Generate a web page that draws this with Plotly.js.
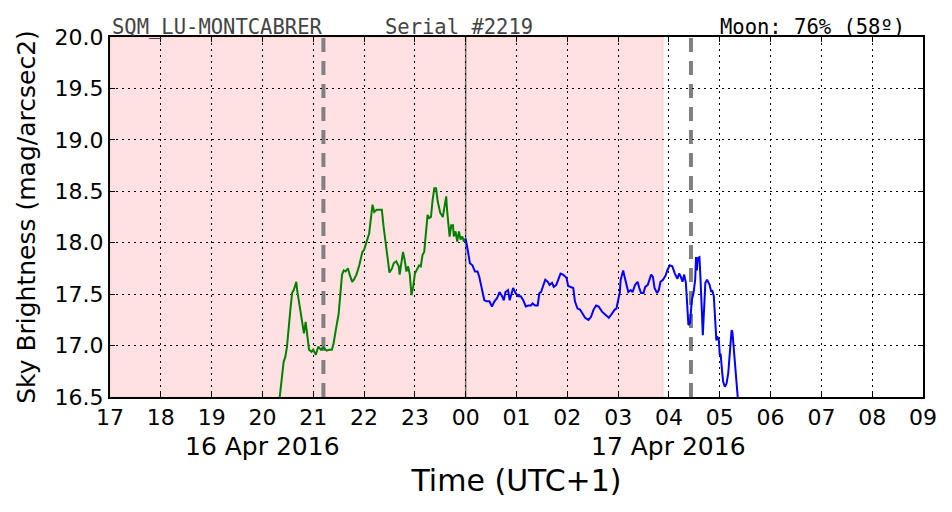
<!DOCTYPE html>
<html>
<head>
<meta charset="utf-8">
<script src="https://cdn.plot.ly/plotly-3.0.1.min.js"></script>
<style>html,body{margin:0;padding:0;background:#fff;}#chart{width:952px;height:512px;}</style>
</head>
<body>
<div id="chart"></div>
<script>
// ---- data ----
const day1 = "2016-04-16";
const day2 = "2016-04-17";
const greenTimes = ["20:20","20:23","20:25","20:27","20:29","20:33","20:35","20:37","20:40","20:41","20:44","20:46","20:49","20:51","20:53","20:55","20:58","21:00","21:03","21:06","21:09","21:12","21:16","21:19","21:22","21:24","21:27","21:30","21:34","21:36","21:38","21:41","21:43","21:46","21:48","21:51","21:54","21:56","21:58","22:00","22:02","22:04","22:06","22:09","22:10","22:12","22:15","22:18","22:21","22:23","22:26","22:28","22:30","22:33","22:35","22:38","22:41","22:42","22:44","22:46","22:48","22:50","22:52","22:54","22:56","22:58","23:00","23:03","23:05","23:07","23:09","23:11","23:13","23:15","23:17","23:19","23:21","23:23","23:25","23:27","23:30","23:33","23:35","23:37","23:38","23:41","23:43","23:45","23:46","23:48","23:50","23:52","23:54","23:56","23:58","23:59"];
const greenVals = [16.47,16.67,16.84,16.89,16.99,17.35,17.51,17.54,17.62,17.54,17.38,17.31,17.12,17.23,17.10,16.96,16.94,16.96,16.91,16.99,16.96,16.98,16.95,16.96,16.96,17.02,17.17,17.31,17.69,17.73,17.72,17.75,17.69,17.62,17.64,17.69,17.77,17.86,17.91,17.93,17.98,18.03,18.09,18.30,18.37,18.30,18.32,18.32,18.32,18.16,17.96,17.82,17.71,17.75,17.80,17.82,17.77,17.69,17.82,17.91,17.83,17.72,17.77,17.69,17.49,17.57,17.70,17.75,17.78,17.77,17.88,17.91,18.06,18.27,18.24,18.25,18.42,18.53,18.53,18.40,18.29,18.25,18.35,18.45,18.32,18.06,18.17,18.17,18.06,18.11,18.01,18.11,18.03,18.06,18.01,18.04];
const blueTimes = ["00:00","00:01","00:03","00:05","00:08","00:11","00:14","00:16","00:19","00:22","00:25","00:28","00:31","00:34","00:37","00:40","00:43","00:45","00:47","00:50","00:52","00:54","00:56","00:59","01:02","01:05","01:08","01:11","01:14","01:17","01:19","01:22","01:25","01:27","01:29","01:31","01:34","01:37","01:39","01:42","01:44","01:47","01:50","01:52","01:55","01:59","02:01","02:04","02:07","02:09","02:12","02:15","02:18","02:21","02:25","02:28","02:31","02:34","02:37","02:41","02:45","02:49","02:51","02:54","02:56","02:58","02:59","03:02","03:03","03:06","03:07","03:10","03:12","03:15","03:17","03:20","03:23","03:25","03:27","03:30","03:32","03:35","03:37","03:39","03:41","03:43","03:46","03:48","03:50","03:53","03:56","03:58","04:01","04:04","04:07","04:10","04:12","04:14","04:16","04:18","04:20","04:22","04:23","04:25","04:27","04:29","04:31","04:32","04:33","04:34","04:36","04:37","04:38","04:39","04:40","04:42","04:43","04:45","04:48","04:50","04:51","04:53","04:55","04:56","04:57","04:59","05:00","05:01","05:03","05:04","05:06","05:08","05:10","05:12","05:14","05:15","05:17","05:19","05:20","05:22"];
const blueVals = [18.04,17.98,17.90,17.80,17.78,17.72,17.72,17.67,17.56,17.44,17.43,17.43,17.38,17.43,17.46,17.52,17.48,17.44,17.52,17.54,17.44,17.49,17.56,17.51,17.48,17.48,17.44,17.38,17.39,17.39,17.41,17.39,17.39,17.51,17.52,17.57,17.64,17.62,17.59,17.61,17.57,17.59,17.67,17.70,17.69,17.66,17.58,17.57,17.56,17.43,17.36,17.35,17.31,17.27,17.25,17.28,17.35,17.39,17.38,17.33,17.30,17.27,17.29,17.33,17.35,17.36,17.41,17.52,17.64,17.73,17.69,17.57,17.52,17.54,17.52,17.59,17.62,17.56,17.51,17.51,17.57,17.59,17.64,17.69,17.67,17.56,17.51,17.54,17.62,17.64,17.68,17.73,17.78,17.77,17.70,17.65,17.70,17.67,17.62,17.69,17.61,17.38,17.20,17.22,17.44,17.51,17.64,17.86,17.73,17.85,17.86,17.70,17.56,17.31,17.10,17.38,17.61,17.64,17.59,17.52,17.54,17.48,17.25,17.05,17.09,17.05,16.91,16.92,16.73,16.65,16.60,16.63,16.73,16.96,17.15,17.13,16.92,16.73,16.57,16.42];
const yTicks = [16.5,17.0,17.5,18.0,18.5,19.0,19.5,20.0];
const xStart = "2016-04-16 17:00";
const xEnd = "2016-04-17 09:00";
const twilightEnd = "2016-04-17 03:53";   // shaded (night) region end
const midnight = "2016-04-17 00:00";
const moonMarks = ["2016-04-16 21:12", "2016-04-17 04:26"];
const dateLabels = [["2016-04-16 20:00","16 Apr 2016"],["2016-04-17 04:00","17 Apr 2016"]];
const headerTexts = ["SQM_LU-MONTCABRER", "Serial #2219", "Moon: 76% (58º)"];
const xTitle = "Time (UTC+1)";
const yTitle = "Sky Brightness (mag/arcsec2)";

const traces = [
  {x: greenTimes.map(t => day1 + " " + t), y: greenVals, type: "scatter", mode: "lines",
   line: {color: "#008000", width: 2}, hoverinfo: "skip"},
  {x: blueTimes.map(t => day2 + " " + t), y: blueVals, type: "scatter", mode: "lines",
   line: {color: "#0000ff", width: 2}, hoverinfo: "skip"}
];

const shapes = [
  {type: "rect", xref: "x", yref: "paper", x0: xStart, x1: twilightEnd, y0: 0, y1: 1,
   fillcolor: "#ffe1e1", line: {color: "#ffcccc", width: 1}, layer: "below"},
  {type: "line", xref: "x", yref: "paper", x0: midnight, x1: midnight, y0: 0, y1: 1,
   line: {color: "#707070", width: 1.5}, layer: "between"}
].concat(moonMarks.map(m => ({type: "line", xref: "x", yref: "paper", x0: m, x1: m, y0: 0, y1: 1,
   line: {color: "#808080", width: 4, dash: "14px,9px"}, layer: "between"})));

const fontMain = "DejaVu Sans, sans-serif";
const annotations = [
  {xref: "paper", yref: "paper", x: 0, y: 1, xanchor: "left", yanchor: "bottom", showarrow: false,
   text: headerTexts[0], font: {family: "DejaVu Sans Mono", size: 20.5, color: "#444"}, yshift: -4},
  {xref: "paper", yref: "paper", x: 0.336, y: 1, xanchor: "left", yanchor: "bottom", showarrow: false,
   text: headerTexts[1], font: {family: "DejaVu Sans Mono", size: 20.5, color: "#444"}, yshift: -4},
  {xref: "paper", yref: "paper", x: 0.98, y: 1, xanchor: "right", yanchor: "bottom", showarrow: false,
   text: headerTexts[2], font: {family: "DejaVu Sans Mono", size: 20.5, color: "#000"}, yshift: -4}
].concat(dateLabels.map(d => ({xref: "x", yref: "paper", x: d[0], y: 0, yanchor: "middle", xanchor: "center",
   yshift: -49, showarrow: false, text: d[1], font: {family: fontMain, size: 25, color: "#000"}})));

const layout = {
  width: 952, height: 512,
  margin: {l: 110, r: 29, t: 37, b: 115},
  paper_bgcolor: "#fff", plot_bgcolor: "#fff",
  showlegend: false,
  font: {family: fontMain, color: "#000"},
  xaxis: {
    type: "date", range: [xStart, xEnd], tick0: xStart, dtick: 3600000, tickformat: "%H",
    showgrid: true, gridcolor: "#000", gridwidth: 1, griddash: "2px,4px",
    showline: true, linecolor: "#000", linewidth: 2, mirror: "ticks",
    ticks: "inside", ticklen: 5, tickwidth: 1, tickcolor: "#000",
    tickfont: {size: 22, family: fontMain}, zeroline: false, automargin: false,
    title: {text: xTitle, font: {size: 30, family: fontMain}, standoff: 41}
  },
  yaxis: {
    range: [16.5, 20.0], tickvals: yTicks, ticktext: yTicks.map(v => v.toFixed(1)),
    showgrid: true, gridcolor: "#000", gridwidth: 1, griddash: "2px,4px",
    showline: true, linecolor: "#000", linewidth: 2, mirror: "ticks",
    ticks: "inside", ticklen: 5, tickwidth: 1, tickcolor: "#000",
    tickfont: {size: 22, family: fontMain}, zeroline: false, automargin: false,
    title: {text: yTitle, font: {size: 25, family: fontMain}, standoff: 12}
  },
  shapes: shapes,
  annotations: annotations
};

Plotly.newPlot("chart", traces, layout, {staticPlot: true, displayModeBar: false});
</script>
</body>
</html>
